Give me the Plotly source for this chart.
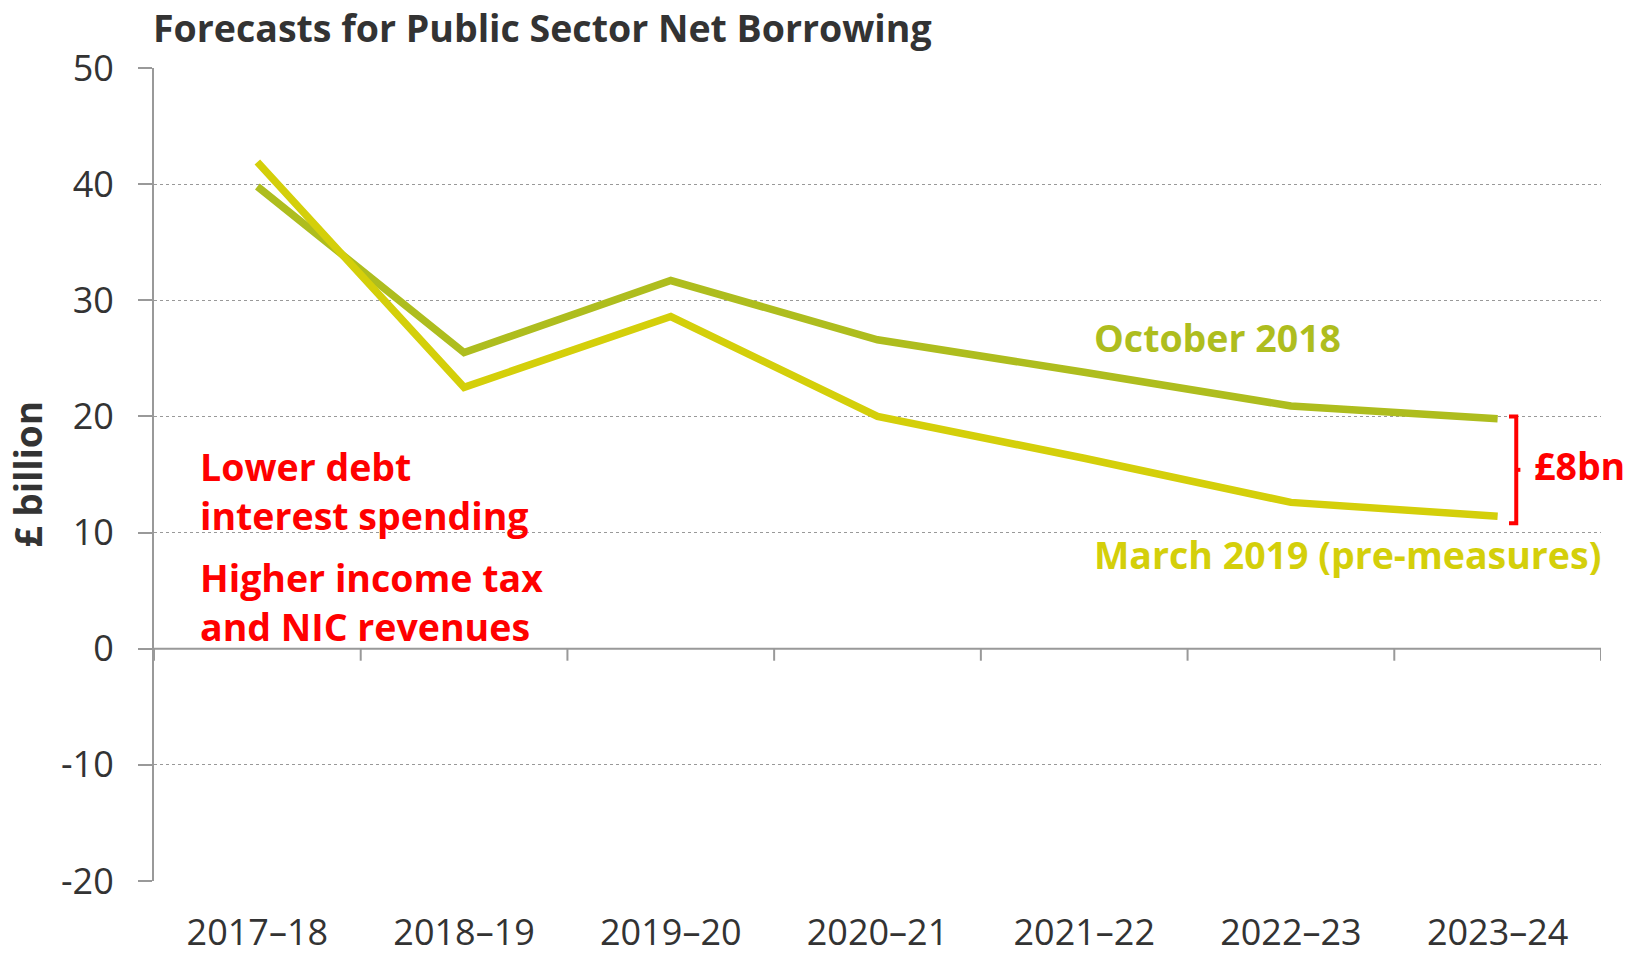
import plotly.graph_objects as go

# Forecast years and borrowing forecasts (£ billion)
years = ["2017–18", "2018–19", "2019–20", "2020–21", "2021–22", "2022–23", "2023–24"]
october_2018 = [39.8, 25.5, 31.7, 26.6, 23.8, 20.9, 19.8]
march_2019 = [41.9, 22.5, 28.6, 20.0, 16.4, 12.6, 11.4]
y_ticks = [50, 40, 30, 20, 10, 0, -10, -20]

OCT_COLOR = "#AEBD1E"
MAR_COLOR = "#D4CF0A"
RED = "#FF0000"
GREY = "#999999"
TEXT = "#333333"
FONT = "Open Sans"
ANN_SIZE = 37.5

x = list(range(len(years)))

fig = go.Figure()
fig.add_trace(go.Scatter(x=x, y=october_2018, mode="lines", name="October 2018",
                         line=dict(color=OCT_COLOR, width=7.5), showlegend=False))
fig.add_trace(go.Scatter(x=x, y=march_2019, mode="lines", name="March 2019 (pre-measures)",
                         line=dict(color=MAR_COLOR, width=7.5), showlegend=False))

shapes = []
# zero line with category boundary ticks
shapes.append(dict(type="line", xref="x", yref="y", x0=-0.5, x1=6.5, y0=0, y1=0,
                   line=dict(color=GREY, width=2), layer="below"))
for b in [i + 0.5 for i in range(-1, 7)]:
    shapes.append(dict(type="line", xref="x", yref="y", ysizemode="pixel", yanchor=0,
                       x0=b, x1=b, y0=0, y1=-12, line=dict(color=GREY, width=2)))

# bracket showing the gap in the final year
gap_top = october_2018[-1] + 0.2
gap_bot = march_2019[-1] - 0.6
mid = (gap_top + gap_bot) / 2
bx = 6.09
shapes.append(dict(type="path", xref="x", yref="y",
                   path=f"M 6.055 {gap_top} L {bx} {gap_top} L {bx} {gap_bot} L 6.055 {gap_bot}",
                   line=dict(color=RED, width=4)))
shapes.append(dict(type="line", xref="x", yref="y", x0=bx, x1=bx + 0.02, y0=mid, y1=mid,
                   line=dict(color=RED, width=4)))


def label(text, xv, yv, color):
    return dict(text=f"<b>{text}</b>", xref="x", yref="y", x=xv, y=yv, xanchor="left",
                yanchor="middle", align="left", showarrow=False,
                font=dict(family=FONT, size=ANN_SIZE, color=color))


annotations = [
    dict(text="<b>Forecasts for Public Sector Net Borrowing</b>", xref="paper", yref="paper",
         x=0, y=1, xanchor="left", yanchor="top", yshift=68, xshift=-3, showarrow=False,
         font=dict(family=FONT, size=37.5, color=TEXT)),
    dict(text="<b>£ billion</b>", xref="paper", yref="paper", x=0, y=0.5, xshift=-127,
         xanchor="center", yanchor="middle", textangle=-90, showarrow=False,
         font=dict(family=FONT, size=37, color=TEXT)),
    label("October 2018", 4.036, 26.8, OCT_COLOR),
    label("March 2019 (pre-measures)", 4.036, 8.1, MAR_COLOR),
    label("£8bn", 6.165, 15.8, RED),
    label("Lower debt<br>interest spending", -0.285, 13.55, RED),
    label("Higher income tax<br>and NIC revenues", -0.285, 4.0, RED),
]

fig.update_layout(
    width=1639, height=957,
    margin=dict(l=154, r=38, t=68, b=76, autoexpand=False),
    paper_bgcolor="white", plot_bgcolor="white",
    font=dict(family=FONT, color=TEXT),
    shapes=shapes, annotations=annotations,
    xaxis=dict(range=[-0.5, 6.5], tickmode="array", tickvals=x, ticktext=years,
               showgrid=False, zeroline=False, showline=False, automargin=False,
               ticks="outside", ticklen=20, tickcolor="rgba(0,0,0,0)",
               tickfont=dict(family=FONT, size=36, color=TEXT)),
    yaxis=dict(range=[-20, 50], tickmode="array", tickvals=y_ticks,
               ticktext=[str(v) for v in y_ticks], automargin=False,
               showgrid=True, gridcolor=GREY, gridwidth=1, griddash="dot",
               zeroline=False, showline=True, linecolor=GREY, linewidth=2,
               ticks="outside", ticklen=14, tickcolor=GREY, tickwidth=2,
               ticklabelstandoff=17,
               tickfont=dict(family=FONT, size=36, color=TEXT)),
)

fig.write_html("out.html")
